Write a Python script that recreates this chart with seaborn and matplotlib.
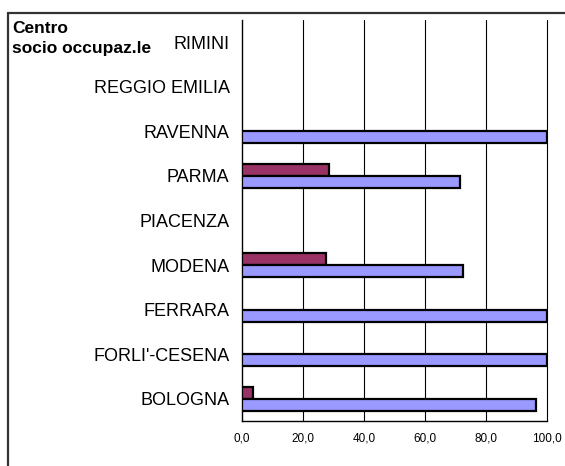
import numpy as np
import pandas as pd
import matplotlib
matplotlib.use("Agg")
import matplotlib.pyplot as plt
from matplotlib.lines import Line2D
import seaborn as sns

categories = ["RIMINI", "REGGIO EMILIA", "RAVENNA", "PARMA", "PIACENZA",
              "MODENA", "FERRARA", "FORLI'-CESENA", "BOLOGNA"]
serie_rossa = [np.nan, np.nan, np.nan, 28.6, np.nan, 27.5, np.nan, np.nan, 3.5]
serie_blu = [np.nan, np.nan, 100.0, 71.4, np.nan, 72.5, 100.0, 100.0, 96.5]
series_names = ["Serie 1", "Serie 2"]
xticks = [0, 20, 40, 60, 80, 100]
xticklabels = ["0,0", "20,0", "40,0", "60,0", "80,0", "100,0"]
title_text = "Centro\nsocio occupaz.le"

rows = []
for c, r, b in zip(categories, serie_rossa, serie_blu):
    rows.append({"cat": c, "serie": series_names[0], "val": r})
    rows.append({"cat": c, "serie": series_names[1], "val": b})
df = pd.DataFrame(rows).dropna()

sns.set_style("white")
plt.rcParams["font.family"] = ["Liberation Sans", "DejaVu Sans"]
plt.rcParams["text.color"] = "black"
plt.rcParams["xtick.color"] = "black"
plt.rcParams["ytick.color"] = "black"
plt.rcParams["xtick.labelcolor"] = "black"
plt.rcParams["ytick.labelcolor"] = "black"

fig = plt.figure(figsize=(5.65, 4.66), dpi=100)
ax = fig.add_axes([242/565, 1-421/466, (547-242)/565, (421-20)/466])

sns.barplot(data=df, x="val", y="cat", hue="serie", order=categories,
            hue_order=series_names, palette=["#993366", "#9999FF"],
            saturation=1, orient="h", width=0.54, errorbar=None, dodge=True,
            edgecolor="black", linewidth=1.6, legend=False, ax=ax, zorder=3)

ax.set_xlim(0, 100)
ax.set_ylim(8.5, -0.5)
ax.set_xticks(xticks)
ax.set_xticklabels(xticklabels, fontsize=8.5)
ax.set_yticks(range(len(categories)))
ax.set_yticklabels(categories, fontsize=13)
ax.set_yticks(np.arange(-0.5, len(categories), 1), minor=True)
ax.tick_params(axis="y", which="major", length=0, pad=9)
ax.tick_params(axis="y", which="minor", length=5, width=1, color="black", direction="out")
ax.tick_params(axis="x", length=5, width=1, color="black", direction="out", pad=3)
ax.set_xlabel("")
ax.set_ylabel("")
for x in xticks[1:]:
    ax.axvline(x, color="black", linewidth=0.8, zorder=1, clip_on=False)
for s in ["top", "right"]:
    ax.spines[s].set_visible(False)
for s in ["left", "bottom"]:
    ax.spines[s].set_color("black")
    ax.spines[s].set_linewidth(1)

fig.add_artist(Line2D([8/565, 8/565], [0, 1-13/466], transform=fig.transFigure,
                      color="#333333", linewidth=1.6))
fig.add_artist(Line2D([8/565, 1], [1-13/466, 1-13/466], transform=fig.transFigure,
                      color="#333333", linewidth=1.6))
fig.text(12/565, 1-21/466, title_text, fontsize=12.5, fontweight="bold",
         va="top", ha="left", linespacing=1.45)

fig.savefig("out.png", dpi=100)
